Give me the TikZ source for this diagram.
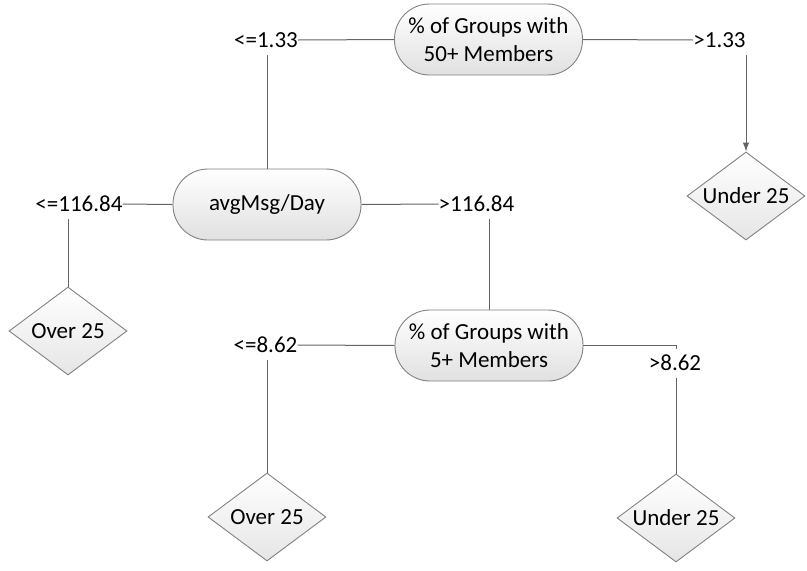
\documentclass[tikz,border=0pt]{standalone}
\usepackage{fontspec}
\setmainfont{Carlito}
\usetikzlibrary{shapes.geometric,arrows.meta}
\definecolor{edgegray}{RGB}{100,100,100}
\definecolor{bordergray}{RGB}{130,130,130}
\begin{document}
\begin{tikzpicture}[x=1pt,y=-1pt,
  font=\fontsize{23}{28}\selectfont,
  term/.style={draw=bordergray, line width=0.9pt, rounded corners=35pt,
    top color=white, bottom color=black!12, minimum width=188pt,
    minimum height=71pt, align=center, inner sep=0pt},
  leaf/.style={draw=bordergray, line width=0.9pt, shape=diamond, shape aspect=1.34,
    top color=white, bottom color=black!10, minimum width=118pt,
    minimum height=88pt, inner sep=0pt},
  lbl/.style={inner xsep=0pt, inner ysep=7pt},
  conn/.style={draw=edgegray, line width=1pt}
]
\useasboundingbox (0,0) rectangle (807,571);

% decision nodes
\node[term] (top) at (488.5,39.5) {\% of Groups with\\50+ Members};
\node[term] (avg) at (267,204.5) {avgMsg/Day};
\node[term] (n5)  at (489,345.5) {\% of Groups with\\5+ Members};

% leaves
\node[leaf] (un1) at (746,196) {Under 25};
\node[leaf] (ov1) at (68,331)  {Over 25};
\node[leaf] (ov2) at (267,517) {Over 25};
\node[leaf] (un2) at (676,518) {Under 25};

% branch labels
\node[lbl] (le133)   at (266,40)    {<=1.33};
\node[lbl] (gt133)   at (719.5,40)  {>1.33};
\node[lbl] (le11684) at (79,204)    {<=116.84};
\node[lbl] (gt11684) at (476.5,204) {>116.84};
\node[lbl] (le862)   at (265.5,345) {<=8.62};
\node[lbl] (gt862)   at (675,363)   {>8.62};

\coordinate (tick) at (676,348.5);

% connectors
\draw[conn] (le133.east) -- (top.west);
\draw[conn] (top.east) -- (gt133.west);
\draw[conn, -{Latex[length=9pt,width=6.5pt]}] (gt133.south -| un1.north) -- (un1.north);
\draw[conn] (le133.south -| avg.north) -- (avg.north);

\draw[conn] (le11684.east) -- (avg.west);
\draw[conn] (avg.east) -- (gt11684.west);
\draw[conn] (le11684.south -| ov1.north) -- (ov1.north);
\draw[conn] (gt11684.south -| n5.north) -- (n5.north);

\draw[conn] (le862.east) -- (n5.west);
\draw[conn] (n5.east) -| (tick);
\draw[conn] (le862.south -| ov2.north) -- (ov2.north);
\draw[conn] (gt862.south -| un2.north) -- (un2.north);
\end{tikzpicture}
\end{document}
